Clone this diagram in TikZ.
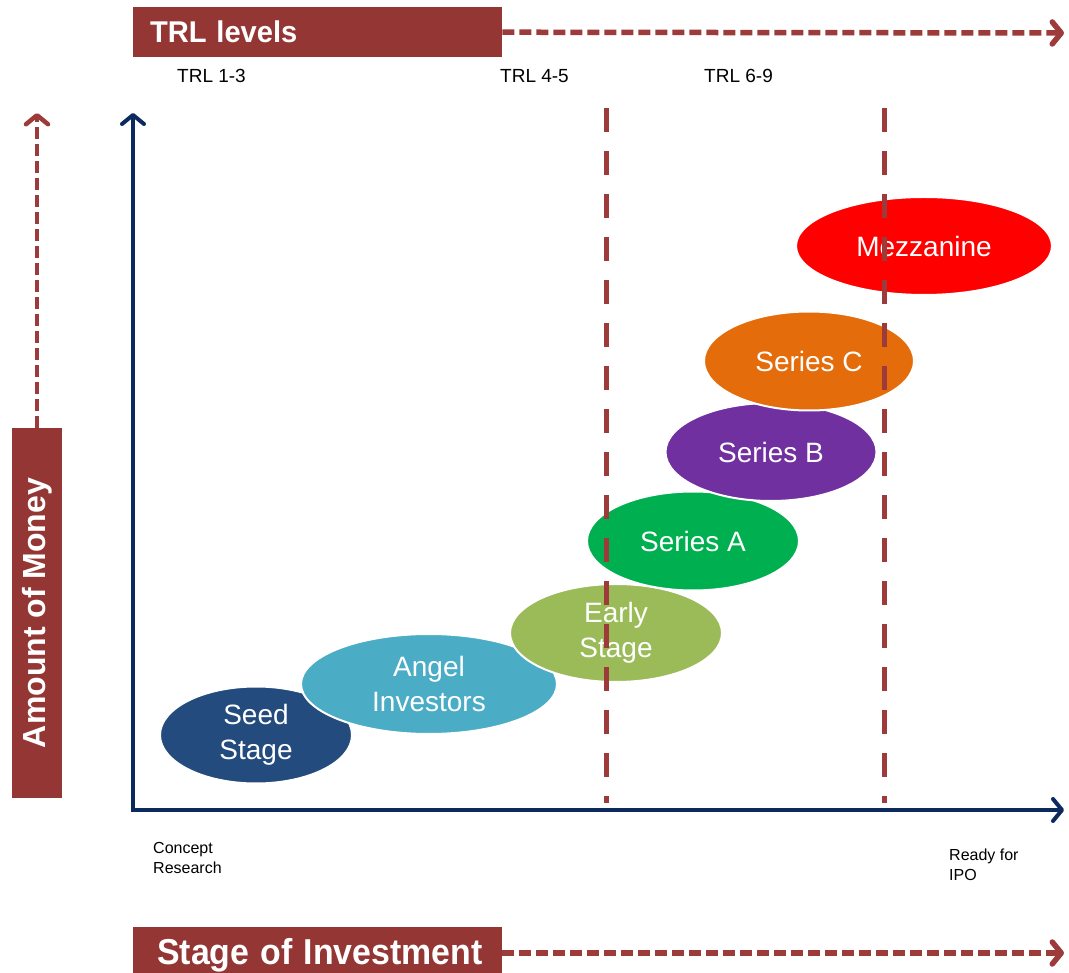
\documentclass[tikz,border=0pt]{standalone}
\usepackage{fontspec}
\setmainfont{Liberation Sans}
\usetikzlibrary{arrows.meta,shapes.geometric}
\definecolor{brown}{HTML}{943634}
\definecolor{dashbrown}{HTML}{9C3B3A}
\definecolor{navy}{HTML}{0C2A5E}
\definecolor{seedc}{HTML}{234B7D}
\definecolor{angelc}{HTML}{4BACC6}
\definecolor{earlyc}{HTML}{9BBB59}
\definecolor{seriesac}{HTML}{00B050}
\definecolor{seriesbc}{HTML}{7030A0}
\definecolor{seriescc}{HTML}{E46C0A}
\definecolor{mezzc}{HTML}{FF0000}
\tikzset{
  brownbox/.style={fill=brown, draw=none, text=white, font=\bfseries\fontsize{30}{34}\selectfont},
  harrow/.style={draw=dashbrown, line width=5.5pt, dash pattern=on 12pt off 5pt, -{Straight Barb[length=9pt,width=22pt,round]}},
  vguide/.style={draw=dashbrown, line width=5pt, dash pattern=on 24pt off 19pt},
  axis/.style={draw=navy, line width=4pt, -{Straight Barb[length=9pt,width=22pt,round]}},
  stage/.style={ellipse, draw=white, line width=2pt, text=white, inner sep=0pt, font=\fontsize{28}{35}\selectfont, align=center},
  lbl/.style={font=\fontsize{19}{22}\selectfont, inner sep=0pt},
  small/.style={font=\fontsize{16}{20}\selectfont, inner sep=0pt, align=left},
}
\begin{document}
\begin{tikzpicture}[x=1pt,y=-1pt]
\useasboundingbox (0,0) rectangle (1069,973);
% TRL levels box
\node[brownbox, anchor=north west, minimum height=50pt, inner xsep=17pt, text width=335pt, align=left] (trl) at (133,7) {\scalebox{0.97}[1]{TRL levels}};
\coordinate (trlend) at (1064,33);
\draw[harrow] (trl.east) -- (trlend);
\node[lbl, anchor=west] (t13) at (177,76) {TRL 1-3};
\node[lbl, anchor=west] (t45) at (500,76) {TRL 4-5};
\node[lbl, anchor=west] (t69) at (704,76) {TRL 6-9};
% Amount of Money
\node[brownbox, rotate=90, minimum width=370pt, minimum height=50pt, inner sep=0pt, font=\bfseries\fontsize{32}{36}\selectfont] (money) at (37,613) {Amount of Money};
\coordinate (moneytop) at (37,113);
\draw[harrow, line width=4.5pt] (money.east) -- (moneytop);
% axes
\coordinate (O) at (133,810);
\coordinate (ytop) at (133,113);
\coordinate (xend) at (1064,810);
\draw[axis, line cap=rect] (O) -- (ytop);
\draw[axis] (O) -- (xend);
% ellipses
\node[stage, fill=seedc, minimum width=192pt, minimum height=97pt] (seed) at (256,735) {Seed\\Stage};
\node[stage, fill=angelc, minimum width=256pt, minimum height=100pt] (angel) at (429,684) {Angel\\Investors};
\node[stage, fill=earlyc, minimum width=212pt, minimum height=98pt] (early) at (616,633) {Early\\Stage};
\node[stage, fill=seriesac, minimum width=212pt, minimum height=99pt] (sa) at (693,541) {Series A};
\node[stage, fill=seriesbc, minimum width=211pt, minimum height=98pt] (sb) at (771,452) {Series B};
\node[stage, fill=seriescc, minimum width=210pt, minimum height=99pt] (sc) at (809,361) {Series C};
\node[stage, fill=mezzc, minimum width=256pt, minimum height=98pt] (mezz) at (924,246) {Mezzanine};
% vertical guides
\coordinate (g1t) at (606,108);
\coordinate (g1b) at (606,803);
\coordinate (g2t) at (884,108);
\coordinate (g2b) at (884,803);
\draw[vguide] (g1t) -- (g1b);
\draw[vguide] (g2t) -- (g2b);
% bottom labels
\node[small, anchor=north west] (concept) at (153,842) {Concept\\Research};
\node[small, anchor=north west] (ipo) at (949,849) {Ready for\\IPO};
% Stage of Investment
\node[brownbox, anchor=north west, minimum height=56pt, inner xsep=0pt, text width=369pt, align=left, font=\bfseries\fontsize{36}{40}\selectfont] (soi) at (133,927) {\hspace*{24pt}\raisebox{-4pt}{\scalebox{0.94}[1]{Stage of Investment}}};
\coordinate (soiend) at (1064,953);
\draw[harrow] (soi.east |- soiend) -- (soiend);
\end{tikzpicture}
\end{document}
